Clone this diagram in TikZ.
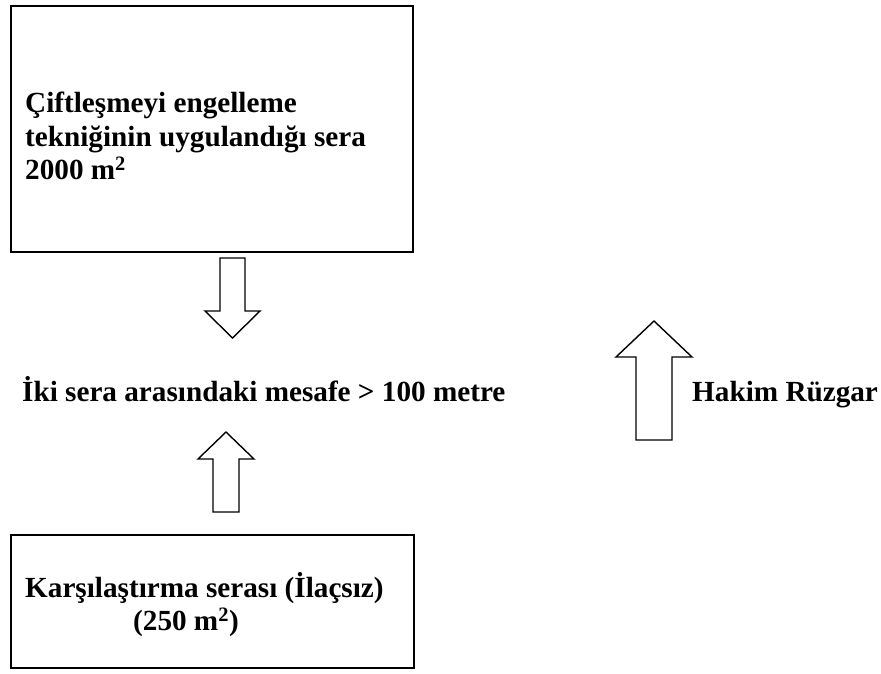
\documentclass[tikz,border=0pt]{standalone}
\usepackage{fontspec}
\setmainfont{Liberation Serif}
\usetikzlibrary{positioning}

\begin{document}
\begin{tikzpicture}[
    x=1pt, y=-1pt,
    box/.style={rectangle, draw=black, line width=1.6pt, inner sep=0pt, anchor=north west},
    lbl/.style={inner sep=0pt, font=\fontsize{29.2}{33.5}\selectfont\bfseries, align=left},
    fatarrow/.style={draw=black, line width=1.4pt, fill=white, line join=miter}
]
\useasboundingbox (0,0) rectangle (881,673);
% seralar
\node[box, minimum width=402pt, minimum height=246pt] (sera) at (10,5) {};
\node[lbl, anchor=north west] (seratext) at (25,92)
    {Çiftleşmeyi engelleme\\tekniğinin uygulandığı sera\\2000 m\textsuperscript{2}};
\node[box, minimum width=403pt, minimum height=133pt] (karsi) at (10,534) {};
\node[lbl, anchor=north west] (karsitext) at (25,572)
    {Karşılaştırma serası (İlaçsız)\\\hspace*{108pt}(250 m\textsuperscript{2})};
% mesafe ve ruzgar
\node[lbl, anchor=base west] (mesafe) at (22,401) {İki sera arasındaki mesafe > 100 metre};
\node[lbl, anchor=base west] (ruzgar) at (692,401) {Hakim Rüzgar};
% oklar
\draw[fatarrow] (220,258) -- (245,258) -- (245,311) -- (260,311) -- (232.5,338)
    -- (205,311) -- (220,311) -- cycle;
\draw[fatarrow] (213,512) -- (239,512) -- (239,459) -- (254,459) -- (226,432)
    -- (198,459) -- (213,459) -- cycle;
\draw[fatarrow] (636,440) -- (672,440) -- (672,357) -- (692,357) -- (654,321)
    -- (616,357) -- (636,357) -- cycle;
\end{tikzpicture}
\end{document}
